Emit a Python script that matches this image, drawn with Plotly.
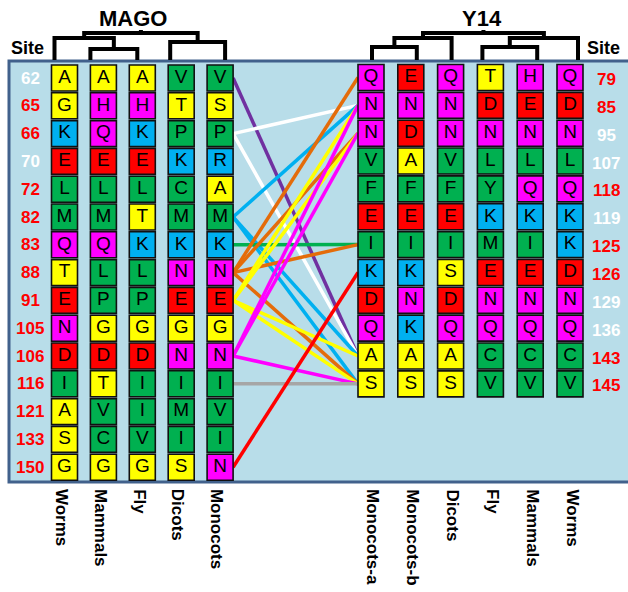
import plotly.graph_objects as go

# ---------------- data ----------------
mago_species = ["Worms", "Mammals", "Fly", "Dicots", "Monocots"]
mago_sites = [62, 65, 66, 70, 72, 82, 83, 88, 91, 105, 106, 116, 121, 133, 150]
# 1 = site highlighted in red, 0 = white
mago_site_hit = [0, 1, 1, 0, 1, 1, 1, 1, 1, 1, 1, 1, 1, 1, 1]
mago_worms = list("AGKELMQTENDIASG")
mago_mammals = list("AHQELMQLPGDTVCG")
mago_fly = list("AHKELTKLPGDIIVG")
mago_dicots = list("VTPKCMKNEGNIMIS")
mago_monocots = list("VSPRAMKNEGNIVIN")

y14_species = ["Monocots-a", "Monocots-b", "Dicots", "Fly", "Mammals", "Worms"]
y14_sites = [79, 85, 95, 107, 118, 119, 125, 126, 129, 136, 143, 145]
y14_site_hit = [1, 1, 0, 0, 1, 0, 1, 1, 0, 0, 1, 1]
y14_monocots_a = list("QNNVFEIKDQAS")
y14_monocots_b = list("ENDAFEIKNKAS")
y14_dicots = list("QNNVFEISDQAS")
y14_fly = list("TDNLYKMENQCV")
y14_mammals = list("HENLQKIENQCV")
y14_worms = list("QDNLQKKDNQCV")

# contacts between MAGO (Monocots) and Y14 (Monocots-a) sites
link_mago = [62, 66, 66, 82, 82, 82, 83, 88, 88, 88, 88, 91, 91, 91, 91, 106, 106, 106, 116, 150]
link_y14 = [143, 85, 143, 85, 143, 145, 125, 79, 95, 125, 145, 85, 95, 143, 145, 85, 95, 145, 145, 126]
link_group = ["purple", "white", "white", "cyan", "cyan", "cyan", "green", "orange", "orange",
              "orange", "orange", "yellow", "yellow", "yellow", "yellow", "magenta", "magenta",
              "magenta", "gray", "red"]

# ---------------- styling ----------------
FONT = "Liberation Sans, Arial, sans-serif"
W, H = 628, 592
BOX = 26
residue_color = {}
for aa in "AGST":
    residue_color[aa] = "#ffff00"
for aa in "HQN":
    residue_color[aa] = "#ff00ff"
for aa in "KR":
    residue_color[aa] = "#00b0f0"
for aa in "ED":
    residue_color[aa] = "#ff0000"
for aa in "LMIVFYCPW":
    residue_color[aa] = "#00b050"
line_palette = {"purple": "#7030a0", "white": "#ffffff", "cyan": "#00b0f0", "green": "#00b050",
                "orange": "#e46c0a", "yellow": "#ffff00", "magenta": "#ff00ff",
                "gray": "#a6a6a6", "red": "#ff0000"}

mago_cols = [mago_worms, mago_mammals, mago_fly, mago_dicots, mago_monocots]
y14_cols = [y14_monocots_a, y14_monocots_b, y14_dicots, y14_fly, y14_mammals, y14_worms]

mago_x = [64.5 + 38.9 * i for i in range(len(mago_species))]
y14_x = [371 + 39.8 * i for i in range(len(y14_species))]
mago_y = [78 + 27.8 * i for i in range(len(mago_sites))]
y14_y = [77.5 + 27.85 * i for i in range(len(y14_sites))]

fig = go.Figure()

# background panel
fig.add_shape(type="rect", x0=9, x1=W + 20, y0=61, y1=482,
              fillcolor="#b8dde9", line=dict(color="#41618c", width=3), layer="below")

# contact lines
x_left = mago_x[-1] + BOX / 2
x_right = y14_x[0] - BOX / 2
for m, y, g in zip(link_mago, link_y14, link_group):
    y0 = mago_y[mago_sites.index(m)]
    y1 = y14_y[y14_sites.index(y)]
    fig.add_trace(go.Scatter(x=[x_left, x_right], y=[y0, y1], mode="lines",
                             line=dict(color=line_palette[g], width=3.5),
                             hoverinfo="skip", showlegend=False))


def residue_column(x, ys, residues):
    fig.add_trace(go.Scatter(
        x=[x] * len(residues), y=ys, mode="markers+text", text=residues,
        textposition="middle center",
        textfont=dict(family=FONT, size=19, color="black"),
        marker=dict(symbol="square", size=BOX,
                    color=[residue_color[r] for r in residues],
                    line=dict(color="#111111", width=1.6)),
        hoverinfo="skip", showlegend=False))


for x, col in zip(mago_x, mago_cols):
    residue_column(x, mago_y, col)
for x, col in zip(y14_x, y14_cols):
    residue_column(x, y14_y, col)

# site numbers
for s, hit, y in zip(mago_sites, mago_site_hit, mago_y):
    fig.add_annotation(x=30, y=y, text=f"<b>{s}</b>", showarrow=False,
                       font=dict(family=FONT, size=17, color="#ff0000" if hit else "#ffffff"))
for s, hit, y in zip(y14_sites, y14_site_hit, y14_y):
    fig.add_annotation(x=606, y=y + 2, text=f"<b>{s}</b>", showarrow=False,
                       font=dict(family=FONT, size=17, color="#ff0000" if hit else "#ffffff"))

# species labels, rotated
for x, name in zip(mago_x, mago_species):
    fig.add_annotation(x=x - 3, y=487, text=f"<b>{name}</b>", showarrow=False, textangle=90,
                       xanchor="center", yanchor="top",
                       font=dict(family=FONT, size=17, color="black"))
for x, name in zip(y14_x, y14_species):
    fig.add_annotation(x=x + 2, y=487, text=f"<b>{name}</b>", showarrow=False, textangle=90,
                       xanchor="center", yanchor="top",
                       font=dict(family=FONT, size=17, color="black"))

# titles
fig.add_annotation(x=133, y=18, text="<b>MAGO</b>", showarrow=False,
                   font=dict(family=FONT, size=22, color="black"))
fig.add_annotation(x=482, y=18, text="<b>Y14</b>", showarrow=False,
                   font=dict(family=FONT, size=22, color="black"))
fig.add_annotation(x=27, y=48, text="<b>Site</b>", showarrow=False,
                   font=dict(family=FONT, size=18, color="black"))
fig.add_annotation(x=603, y=48, text="<b>Site</b>", showarrow=False,
                   font=dict(family=FONT, size=18, color="black"))


# dendrograms
def dendrogram(leaf_x, merges, base):
    node_x = list(leaf_x)
    node_top = [base] * len(leaf_x)
    for a, b, h in merges:
        fig.add_trace(go.Scatter(
            x=[node_x[a], node_x[a], node_x[b], node_x[b]],
            y=[node_top[a], h, h, node_top[b]], mode="lines",
            line=dict(color="black", width=4), hoverinfo="skip", showlegend=False))
        node_x.append((node_x[a] + node_x[b]) / 2)
        node_top.append(h)
    # small tick on the root
    fig.add_trace(go.Scatter(x=[node_x[-1], node_x[-1]], y=[node_top[-1], node_top[-1] - 3],
                             mode="lines", line=dict(color="black", width=4),
                             hoverinfo="skip", showlegend=False))


mago_leaf_shift = [-10, -13, -5, -11, 5]
dendrogram([x + d for x, d in zip(mago_x, mago_leaf_shift)],
           [(1, 2, 49), (0, 5, 38), (3, 4, 42), (6, 7, 33)], 60)
y14_leaf_shift = [1, 6, 1, -8, 7, 8]
dendrogram([x + d for x, d in zip(y14_x, y14_leaf_shift)],
           [(0, 1, 47), (6, 2, 38), (3, 4, 47), (8, 5, 38), (7, 9, 33)], 60)

fig.update_layout(
    width=W, height=H, margin=dict(l=0, r=0, t=0, b=0),
    paper_bgcolor="white", plot_bgcolor="white",
    xaxis=dict(range=[0, W], visible=False, fixedrange=True),
    yaxis=dict(range=[H, 0], visible=False, fixedrange=True),
    showlegend=False,
)

fig.write_html("out.html")
